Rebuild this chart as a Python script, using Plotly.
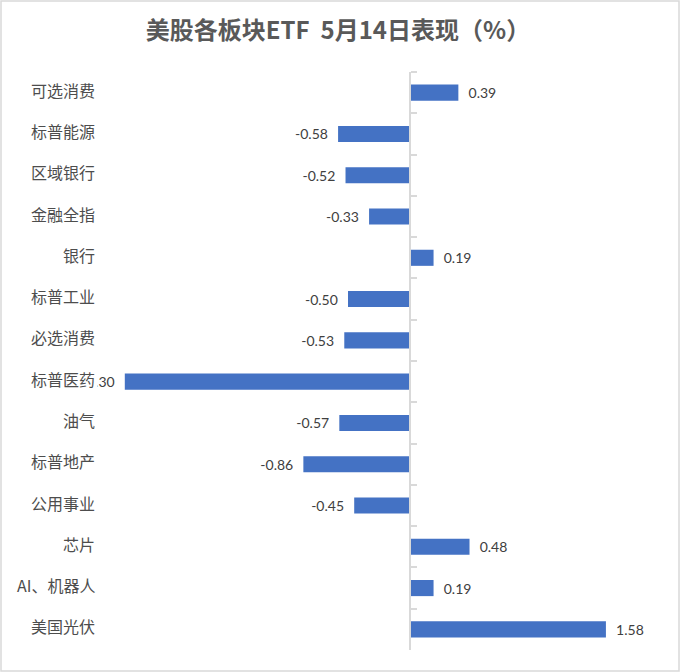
import plotly.graph_objects as go

categories = ["可选消费", "标普能源", "区域银行", "金融全指", "银行", "标普工业", "必选消费",
              "标普医药", "油气", "标普地产", "公用事业", "芯片", "AI、机器人", "美国光伏"]
values = [0.39, -0.58, -0.52, -0.33, 0.19, -0.50, -0.53, -2.30, -0.57, -0.86, -0.45, 0.48, 0.19, 1.58]
title = "<b>美股各板块ETF  5月14日表现（%）</b>"

W, H = 680, 672
ml, mr, mt, mb = 100, 22, 72, 22
pw, ph = W - ml - mr, H - mt - mb
xmin, xmax = -2.5, 2.0
cjk = "Noto Sans CJK SC"
num_font = "Lato"
pad = "\u00a0\u00a0"

labels = [(pad + f"{v:.2f}") if v >= 0 else (f"{v:.2f}" + pad) for v in values]

fig = go.Figure(go.Bar(
    y=categories, x=values, orientation="h",
    marker=dict(color="#4472C4", line=dict(width=0)),
    text=labels, textposition="outside", constraintext="none",
    textfont=dict(size=14, color="#404040", family=num_font),
    cliponaxis=False, width=0.39,
))

annotations = [dict(xref="paper", yref="y", x=-2 / pw, y=c, yshift=3, text=c, showarrow=False,
                    xanchor="right", yanchor="middle", bgcolor="white", borderpad=2,
                    font=dict(size=16, color="#4d4d4d", family=cjk))
               for c in categories]

fig.update_layout(
    width=W, height=H,
    margin=dict(l=ml, r=mr, t=mt, b=mb),
    paper_bgcolor="white", plot_bgcolor="white",
    title=dict(text=title, x=338 / W, xanchor="center", y=1 - 31 / H, yanchor="middle",
               font=dict(size=24, color="#595959", family=cjk)),
    xaxis=dict(range=[xmin, xmax], visible=False, domain=[0, 1]),
    yaxis=dict(autorange="reversed", anchor="free", position=(0 - xmin) / (xmax - xmin),
               side="right", showline=True, linecolor="#D9D9D9", linewidth=2,
               ticks="outside", tickson="boundaries", ticklen=6, tickcolor="#D9D9D9",
               tickwidth=1.5, showticklabels=False, showgrid=False, zeroline=False),
    showlegend=False,
    annotations=annotations,
    shapes=[dict(type="rect", xref="paper", yref="paper",
                 x0=(-ml + 1) / pw, x1=1 + (mr - 1) / pw,
                 y0=(-mb + 1) / ph, y1=1 + (mt - 1) / ph,
                 line=dict(color="#D9D9D9", width=1.5), layer="below")],
)

fig.write_html("out.html", config={"displayModeBar": False},
               post_script="document.body.style.margin='0';")
